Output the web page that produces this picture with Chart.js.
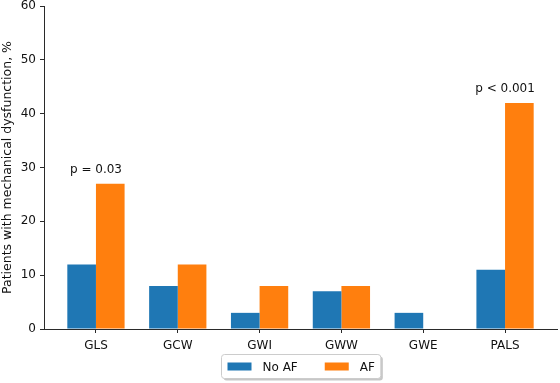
<!DOCTYPE html>
<html>
<head>
<meta charset="utf-8">
<script src="https://cdn.jsdelivr.net/npm/chart.js@4.4.1/dist/chart.umd.min.js"></script>
<style>
  html, body { margin: 0; padding: 0; background: #fff; }
  #wrap { width: 560px; height: 383px; }
</style>
</head>
<body>
<div id="wrap"><canvas id="c" width="560" height="383"></canvas></div>
<script>
// ---- data ----
const categories = ['GLS', 'GCW', 'GWI', 'GWW', 'GWE', 'PALS'];
const seriesNames = ['No AF', 'AF'];
const noAF = [12, 8, 3, 7, 3, 11];
const af = [27, 12, 8, 8, 0, 42];
const yTickValues = [0, 10, 20, 30, 40, 50, 60];
const pLabels = ['p = 0.03', 'p < 0.001'];
const pCategories = ['GLS', 'PALS'];
const pLevels = [30, 45];
const yTitle = 'Patients with mechanical dysfunction, %';

// ---- styles ----
const FONT = 'DejaVu Sans';
const TEXT = '#111111';
const AXIS = '#2a2a2a';
const colors = ['#1f77b4', '#ff7f0e'];

Chart.defaults.font.family = FONT;
Chart.defaults.font.size = 12;
Chart.defaults.color = TEXT;

const toPoints = arr => arr.map((v, i) => ({ x: i, y: v }));

const annotationPlugin = {
  id: 'pvals',
  afterDatasetsDraw(chart) {
    const { ctx, scales } = chart;
    ctx.save();
    ctx.font = '12px ' + FONT;
    ctx.fillStyle = TEXT;
    ctx.textAlign = 'center';
    ctx.textBaseline = 'middle';
    pLabels.forEach((t, k) => {
      const xi = categories.indexOf(pCategories[k]);
      ctx.fillText(t, scales.x.getPixelForValue(xi), scales.y.getPixelForValue(pLevels[k]) + 2);
    });
    ctx.restore();
  }
};

const legendPlugin = {
  id: 'boxLegend',
  afterDraw(chart) {
    const { ctx, chartArea } = chart;
    const ds = chart.data.datasets;
    ctx.save();
    ctx.font = '12px ' + FONT;
    const pad = 6, patchW = 24, patchH = 8, gapText = 11, colGap = 27;
    const widths = ds.map(d => ctx.measureText(d.label).width);
    let W = pad * 2;
    ds.forEach((d, i) => { W += patchW + gapText + widths[i] + (i < ds.length - 1 ? colGap : 0); });
    const H = 24;
    const cx = (chartArea.left + chartArea.right) / 2;
    const left = Math.round(cx - W / 2) + 0.5;
    const top = 354.5;
    // shadow
    ctx.fillStyle = 'rgba(0,0,0,0.22)';
    ctx.beginPath();
    ctx.roundRect(left + 2, top + 2, W, H, 3);
    ctx.fill();
    // frame
    ctx.fillStyle = '#ffffff';
    ctx.strokeStyle = '#cccccc';
    ctx.lineWidth = 1;
    ctx.beginPath();
    ctx.roundRect(left, top, W, H, 3);
    ctx.fill();
    ctx.stroke();
    // items
    let x = left + pad;
    const cy = top + H / 2;
    ds.forEach((d, i) => {
      ctx.fillStyle = d.backgroundColor;
      ctx.fillRect(x, cy - patchH / 2, patchW, patchH);
      x += patchW + gapText;
      ctx.fillStyle = TEXT;
      ctx.textAlign = 'left';
      ctx.textBaseline = 'middle';
      ctx.fillText(d.label, x, cy + 1);
      x += widths[i] + colGap;
    });
    ctx.restore();
  }
};

new Chart(document.getElementById('c'), {
  type: 'bar',
  data: {
    datasets: [
      { label: seriesNames[0], data: toPoints(noAF), backgroundColor: colors[0], borderWidth: 0 },
      { label: seriesNames[1], data: toPoints(af), backgroundColor: colors[1], borderWidth: 0 }
    ]
  },
  options: {
    responsive: false,
    animation: false,
    devicePixelRatio: 1,
    layout: { padding: { top: 6, right: 3, left: 0, bottom: 0 } },
    datasets: { bar: { categoryPercentage: 0.7, barPercentage: 1.0 } },
    plugins: { legend: { display: false }, tooltip: { enabled: false } },
    scales: {
      x: {
        type: 'linear',
        offset: false,
        min: -0.635,
        max: 5.635,
        grid: { display: true, drawOnChartArea: false, drawTicks: true, tickLength: 4, color: AXIS, offset: false },
        border: { display: true, color: AXIS, width: 1 },
        ticks: {
          includeBounds: false,
          padding: 6,
          color: TEXT,
          font: { size: 12, family: FONT },
          maxRotation: 0,
          autoSkip: false,
          callback: v => categories[Math.round(v)]
        },
        afterBuildTicks: s => { s.ticks = categories.map((c, i) => ({ value: i })); },
        afterFit: s => { s.height = 54; s.paddingLeft = 0; s.paddingRight = 0; }
      },
      y: {
        min: 0,
        max: 60,
        grid: { display: true, drawOnChartArea: false, drawTicks: true, tickLength: 4, color: AXIS },
        border: { display: true, color: AXIS, width: 1 },
        ticks: { padding: 4, color: TEXT, font: { size: 12, family: FONT } },
        afterBuildTicks: s => { s.ticks = yTickValues.map(v => ({ value: v })); },
        title: { display: true, text: yTitle, color: TEXT, font: { size: 12.5, family: FONT }, padding: { top: 0, bottom: 0 } },
        afterFit: s => { s.width = 44; s.paddingTop = 0; s.paddingBottom = 0; }
      }
    }
  },
  plugins: [annotationPlugin, legendPlugin]
});
</script>
</body>
</html>
